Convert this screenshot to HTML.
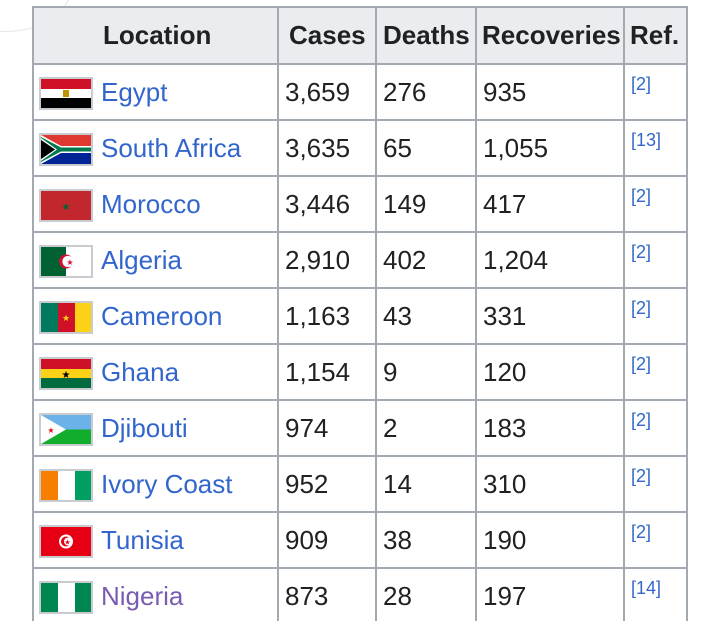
<!DOCTYPE html>
<html><head><meta charset="utf-8"><style>
body{margin:0;width:720px;height:621px;overflow:hidden;background:#fff;font-family:"Liberation Sans",Arial,sans-serif;position:relative}
.h{position:absolute;top:7px;left:32px;width:656px;height:56px;background:#eaecf0}
.vl{position:absolute;top:7px;bottom:0;width:2px;background:#a2a9b1}
.hl{position:absolute;left:32px;width:656px;height:2px;background:#a2a9b1}
.t{position:absolute;font-size:26px;color:#202122;line-height:30px;white-space:nowrap}
.b{font-weight:bold}
.a{color:#3366cc}
.r{position:absolute;font-size:18px;color:#3366cc;line-height:20px}
.f{position:absolute;left:39px;width:50px;height:29px;border:2px solid #c8ccd1;overflow:hidden}
.f svg{display:block}
</style></head><body>
<div style="position:absolute;left:-60px;top:-60px;width:130px;height:90px;border-radius:50%;border:1px solid #e6e6e6"></div>
<div class="h"></div>
<div class="vl" style="left:32px"></div><div class="vl" style="left:277px"></div><div class="vl" style="left:375px"></div><div class="vl" style="left:475px"></div><div class="vl" style="left:623px"></div><div class="vl" style="left:686px"></div>
<div class="hl" style="top:6px"></div>
<div class="hl" style="top:63px"></div><div class="hl" style="top:119px"></div><div class="hl" style="top:175px"></div><div class="hl" style="top:231px"></div><div class="hl" style="top:287px"></div><div class="hl" style="top:343px"></div><div class="hl" style="top:399px"></div><div class="hl" style="top:455px"></div><div class="hl" style="top:511px"></div><div class="hl" style="top:567px"></div>
<div class="t b" style="left:103px;top:20px">Location</div>
<div class="t b" style="left:289px;top:20px">Cases</div>
<div class="t b" style="left:383px;top:20px">Deaths</div>
<div class="t b" style="left:482px;top:20px">Recoveries</div>
<div class="t b" style="left:630px;top:20px">Ref.</div>

<!-- rows -->
<div class="f" style="top:77px"><svg width="50" height="29"><rect width="50" height="10" fill="#ce1126"/><rect y="10" width="50" height="10" fill="#fff"/><rect y="19" width="50" height="10" fill="#000"/><rect x="22" y="11" width="6" height="7" fill="#c09300"/></svg></div>
<div class="t a" style="left:101px;top:77px">Egypt</div>
<div class="t" style="left:285px;top:77px">3,659</div><div class="t" style="left:383px;top:77px">276</div><div class="t" style="left:483px;top:77px">935</div><div class="r" style="left:631px;top:74px">[2]</div>

<div class="f" style="top:133px"><svg width="50" height="29"><rect width="50" height="29" fill="#002395"/><rect width="50" height="14.5" fill="#de3831"/><polygon points="0,0 20,14.5 0,29" fill="#ffb612"/><polygon points="0,3 16,14.5 0,26" fill="#000"/><path d="M0,0 L20,11 H50 V18 H20 L0,29 V24 L14,14.5 L0,5Z" fill="#fff"/><path d="M0,2 L20,12.5 H50 V16.5 H20 L0,27 V26 L16,14.5 L0,3Z" fill="#007a4d"/><polygon points="0,5 14,14.5 0,24" fill="#000"/></svg></div>
<div class="t a" style="left:101px;top:133px">South Africa</div>
<div class="t" style="left:285px;top:133px">3,635</div><div class="t" style="left:383px;top:133px">65</div><div class="t" style="left:483px;top:133px">1,055</div><div class="r" style="left:631px;top:130px">[13]</div>

<div class="f" style="top:189px"><svg width="50" height="29"><rect width="50" height="29" fill="#c1272d"/><text x="25" y="19" font-size="10" fill="#006233" text-anchor="middle">★</text></svg></div>
<div class="t a" style="left:101px;top:189px">Morocco</div>
<div class="t" style="left:285px;top:189px">3,446</div><div class="t" style="left:383px;top:189px">149</div><div class="t" style="left:483px;top:189px">417</div><div class="r" style="left:631px;top:186px">[2]</div>

<div class="f" style="top:245px"><svg width="50" height="29"><rect width="25" height="29" fill="#006233"/><rect x="25" width="25" height="29" fill="#fff"/><circle cx="25" cy="14.5" r="7" fill="#d21034"/><circle cx="27" cy="14.5" r="5.6" fill="#fff"/><text x="29" y="18" font-size="8" fill="#d21034" text-anchor="middle">★</text></svg></div>
<div class="t a" style="left:101px;top:245px">Algeria</div>
<div class="t" style="left:285px;top:245px">2,910</div><div class="t" style="left:383px;top:245px">402</div><div class="t" style="left:483px;top:245px">1,204</div><div class="r" style="left:631px;top:242px">[2]</div>

<div class="f" style="top:301px"><svg width="50" height="29"><rect width="17" height="29" fill="#007a5e"/><rect x="17" width="17" height="29" fill="#ce1126"/><rect x="34" width="16" height="29" fill="#fcd116"/><text x="25" y="18" font-size="9" fill="#fcd116" text-anchor="middle">★</text></svg></div>
<div class="t a" style="left:101px;top:301px">Cameroon</div>
<div class="t" style="left:285px;top:301px">1,163</div><div class="t" style="left:383px;top:301px">43</div><div class="t" style="left:483px;top:301px">331</div><div class="r" style="left:631px;top:298px">[2]</div>

<div class="f" style="top:357px"><svg width="50" height="29"><rect width="50" height="10" fill="#ce1126"/><rect y="10" width="50" height="10" fill="#fcd116"/><rect y="19" width="50" height="10" fill="#006b3f"/><text x="25" y="19" font-size="10" fill="#000" text-anchor="middle">★</text></svg></div>
<div class="t a" style="left:101px;top:357px">Ghana</div>
<div class="t" style="left:285px;top:357px">1,154</div><div class="t" style="left:383px;top:357px">9</div><div class="t" style="left:483px;top:357px">120</div><div class="r" style="left:631px;top:354px">[2]</div>

<div class="f" style="top:413px"><svg width="50" height="29"><rect width="50" height="14.5" fill="#6ab2e7"/><rect y="14.5" width="50" height="14.5" fill="#12ad2b"/><polygon points="0,0 25,14.5 0,29" fill="#fff"/><text x="10" y="18" font-size="8" fill="#d7141a" text-anchor="middle">★</text></svg></div>
<div class="t a" style="left:101px;top:413px">Djibouti</div>
<div class="t" style="left:285px;top:413px">974</div><div class="t" style="left:383px;top:413px">2</div><div class="t" style="left:483px;top:413px">183</div><div class="r" style="left:631px;top:410px">[2]</div>

<div class="f" style="top:469px"><svg width="50" height="29"><rect width="17" height="29" fill="#f77f00"/><rect x="17" width="17" height="29" fill="#fff"/><rect x="34" width="16" height="29" fill="#009e60"/></svg></div>
<div class="t a" style="left:101px;top:469px">Ivory Coast</div>
<div class="t" style="left:285px;top:469px">952</div><div class="t" style="left:383px;top:469px">14</div><div class="t" style="left:483px;top:469px">310</div><div class="r" style="left:631px;top:466px">[2]</div>

<div class="f" style="top:525px"><svg width="50" height="29"><rect width="50" height="29" fill="#e70013"/><circle cx="25" cy="14.5" r="7" fill="#fff"/><circle cx="25" cy="14.5" r="5" fill="#e70013"/><circle cx="27" cy="14.5" r="4" fill="#fff"/><text x="26.5" y="17.5" font-size="7" fill="#e70013" text-anchor="middle">★</text></svg></div>
<div class="t a" style="left:101px;top:525px">Tunisia</div>
<div class="t" style="left:285px;top:525px">909</div><div class="t" style="left:383px;top:525px">38</div><div class="t" style="left:483px;top:525px">190</div><div class="r" style="left:631px;top:522px">[2]</div>

<div class="f" style="top:581px"><svg width="50" height="29"><rect width="17" height="29" fill="#008751"/><rect x="17" width="17" height="29" fill="#fff"/><rect x="34" width="16" height="29" fill="#008751"/></svg></div>
<div class="t" style="left:101px;top:581px;color:#795cb2">Nigeria</div>
<div class="t" style="left:285px;top:581px">873</div><div class="t" style="left:383px;top:581px">28</div><div class="t" style="left:483px;top:581px">197</div><div class="r" style="left:631px;top:578px">[14]</div>
</body></html>
